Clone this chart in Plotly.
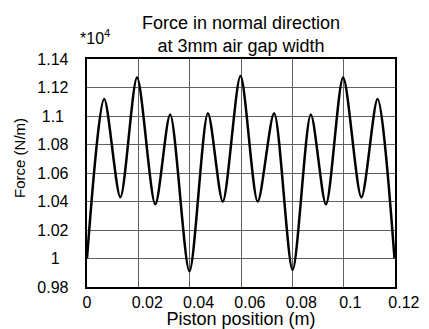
import plotly.graph_objects as go

# Piston position (m) and normal force (units of 1e4 N/m)
x_pos = [0.0, 0.0067, 0.0130, 0.0195, 0.0266, 0.0324, 0.0399, 0.0471, 0.0529,
         0.0598, 0.0665, 0.0729, 0.0801, 0.0872, 0.0931, 0.0998, 0.1069, 0.1132, 0.1198]
force = [1.000, 1.112, 1.043, 1.127, 1.038, 1.101, 0.991, 1.102, 1.040,
         1.128, 1.040, 1.102, 0.992, 1.101, 1.038, 1.127, 1.043, 1.112, 1.000]

x_ticks = [0, 0.02, 0.04, 0.06, 0.08, 0.1, 0.12]
x_ticklabels = ["0", "0.02", "0.04", "0.06", "0.08", "0.1", "0.12"]
y_ticks = [0.98, 1.0, 1.02, 1.04, 1.06, 1.08, 1.1, 1.12, 1.14]
y_ticklabels = ["0.98", "1", "1.02", "1.04", "1.06", "1.08", "1.1", "1.12", "1.14"]

title_text = "Force in normal direction<br>at 3mm air gap width"
x_title = "Piston position (m)"
y_title = "Force (N/m)"
scale_text = "*10<sup>4</sup>"

FONT = "Liberation Sans, Arial, sans-serif"
NB = "\u00a0"
# x labels: left-aligned near the grid line (leading padding)
x_lead = {1: 0, 3: 3, 4: 4}
x_text = [NB * x_lead[len(t)] + t for t in x_ticklabels]
# y labels: centre-aligned, kept away from the axis (trailing padding)
y_trail = {1: 5, 3: 4, 4: 3}
y_text = [t + NB * y_trail[len(t)] for t in y_ticklabels]

fig = go.Figure()
fig.add_trace(go.Scatter(
    x=x_pos, y=force, mode="lines",
    line=dict(color="black", width=2.5, shape="spline", smoothing=0.8),
    showlegend=False, hoverinfo="skip",
))

fig.update_layout(
    width=429, height=329,
    margin=dict(l=87, r=34, t=59, b=42, autoexpand=False),
    paper_bgcolor="white", plot_bgcolor="white",
    font=dict(family=FONT, color="black", size=16),
    title=dict(text=title_text, x=0.562, xanchor="center", y=0.912, yanchor="top",
               font=dict(size=18, family=FONT, color="black")),
    annotations=[
        dict(text=scale_text, xref="paper", yref="paper", x=-0.03, y=1.045,
             xanchor="left", yanchor="bottom", showarrow=False,
             font=dict(size=16, family=FONT, color="black")),
        dict(text=y_title, xref="paper", yref="paper", x=-0.2175, y=0.566,
             xanchor="center", yanchor="middle", textangle=-90, showarrow=False,
             font=dict(size=15, family=FONT, color="black")),
    ],
)

fig.update_xaxes(
    range=[0, 0.12], tickvals=x_ticks, ticktext=x_text, tickangle=0,
    ticks="", automargin=False,
    showgrid=True, gridcolor="#606060", gridwidth=1,
    showline=True, linecolor="black", linewidth=2, mirror=True,
    zeroline=False,
    tickfont=dict(size=16, family=FONT, color="black"),
    title=dict(text=x_title, font=dict(size=18, family=FONT, color="black"), standoff=4),
)
fig.update_yaxes(
    range=[0.98, 1.14], tickvals=y_ticks, ticktext=y_text, tickangle=0,
    ticks="", automargin=False,
    showgrid=True, gridcolor="#606060", gridwidth=1,
    showline=True, linecolor="black", linewidth=2, mirror=True,
    zeroline=False,
    tickfont=dict(size=16, family=FONT, color="black"),
)

fig.write_html("out.html", config={"displayModeBar": False},
               post_script="document.body.style.margin='0';")
